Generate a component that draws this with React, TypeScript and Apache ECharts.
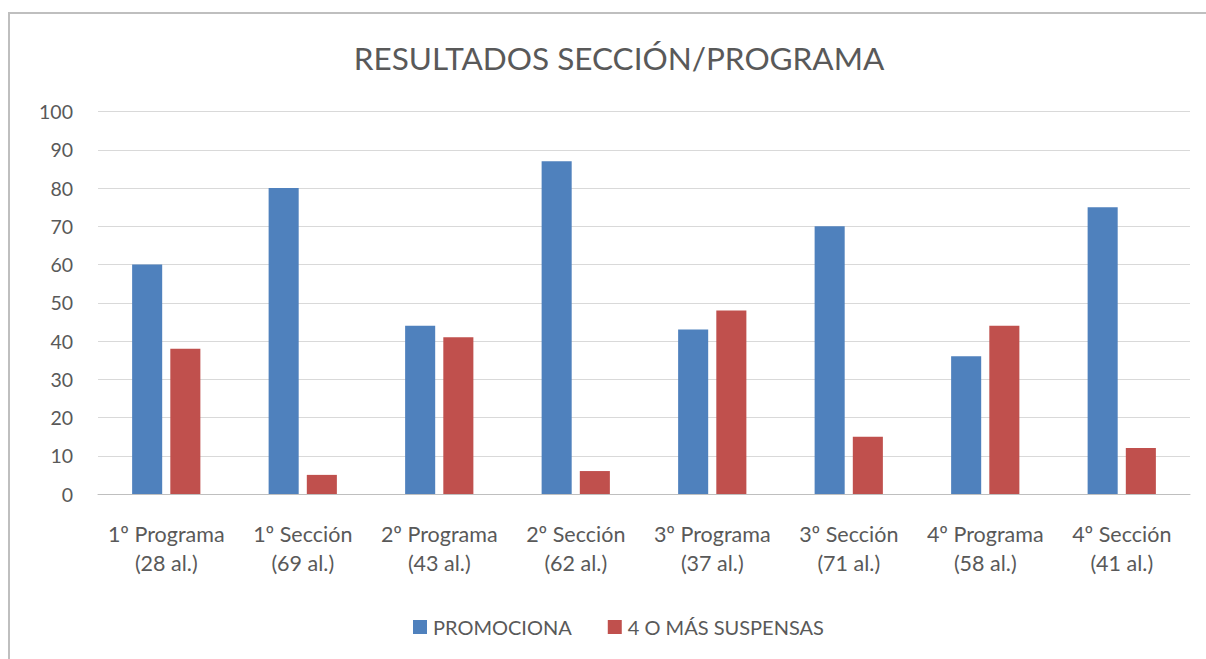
import React, { useEffect, useRef } from "react";
import * as echarts from "echarts";

const categories = [
  "1º Programa\n(28 al.)",
  "1º Sección\n(69 al.)",
  "2º Programa\n(43 al.)",
  "2º Sección\n(62 al.)",
  "3º Programa\n(37 al.)",
  "3º Sección\n(71 al.)",
  "4º Programa\n(58 al.)",
  "4º Sección\n(41 al.)",
];
const promociona = [60, 80, 44, 87, 43, 70, 36, 75];
const suspensas = [38, 5, 41, 6, 48, 15, 44, 12];
const seriesNames = ["PROMOCIONA", "4 O MÁS SUSPENSAS"];
const titleText = "RESULTADOS SECCIÓN/PROGRAMA";

const FONT = "Lato, 'Open Sans', sans-serif";
const TXT = "#595959";

export default function App() {
  const ref = useRef<HTMLDivElement>(null);
  useEffect(() => {
    if (!ref.current) return;
    const chart = echarts.init(ref.current, undefined, { renderer: "svg" });
    chart.setOption({
      animation: false,
      backgroundColor: "#ffffff",
      textStyle: { fontFamily: FONT },
      title: {
        text: titleText,
        left: 614,
        textAlign: "center",
        top: 37,
        textStyle: { fontFamily: FONT, fontSize: 31.5, fontWeight: "normal", color: TXT },
      },
      graphic: [
        {
          type: "rect",
          shape: { x: 9, y: 13, width: 1230, height: 700 },
          style: { fill: "none", stroke: "#bfbfbf", lineWidth: 2 },
          silent: true,
        },
      ],
      legend: {
        bottom: 17,
        left: 408,
        itemWidth: 14,
        itemHeight: 14,
        itemGap: 36,
        icon: "rect",
        textStyle: { fontFamily: FONT, fontSize: 20, color: TXT, padding: [0, 0, 0, 1] },
        data: seriesNames,
      },
      grid: { left: 98, right: 16, top: 111.5, bottom: 165, containLabel: false },
      xAxis: {
        type: "category",
        data: categories,
        axisLine: { show: true, lineStyle: { color: "#bfbfbf", width: 1 } },
        axisTick: { show: false },
        axisLabel: {
          fontFamily: FONT,
          fontSize: 21.5,
          color: TXT,
          lineHeight: 29,
          margin: 25,
          interval: 0,
        },
      },
      yAxis: {
        type: "value",
        min: 0,
        max: 100,
        interval: 10,
        axisLine: { show: false },
        axisTick: { show: false },
        splitLine: { lineStyle: { color: "#d9d9d9", width: 1 } },
        axisLabel: { fontFamily: FONT, fontSize: 19.5, color: TXT, margin: 25 },
      },
      series: [
        {
          name: seriesNames[0],
          type: "bar",
          data: promociona,
          itemStyle: { color: "#4F81BD" },
          barCategoryGap: "50%",
          barGap: "27%",
        },
        {
          name: seriesNames[1],
          type: "bar",
          data: suspensas,
          itemStyle: { color: "#C0504D" },
          barCategoryGap: "50%",
          barGap: "27%",
        },
      ],
    });
    return () => chart.dispose();
  }, []);
  return (
    <div
      ref={ref}
      style={{ position: "fixed", left: 0, top: 0, width: 1206, height: 659 }}
    />
  );
}
